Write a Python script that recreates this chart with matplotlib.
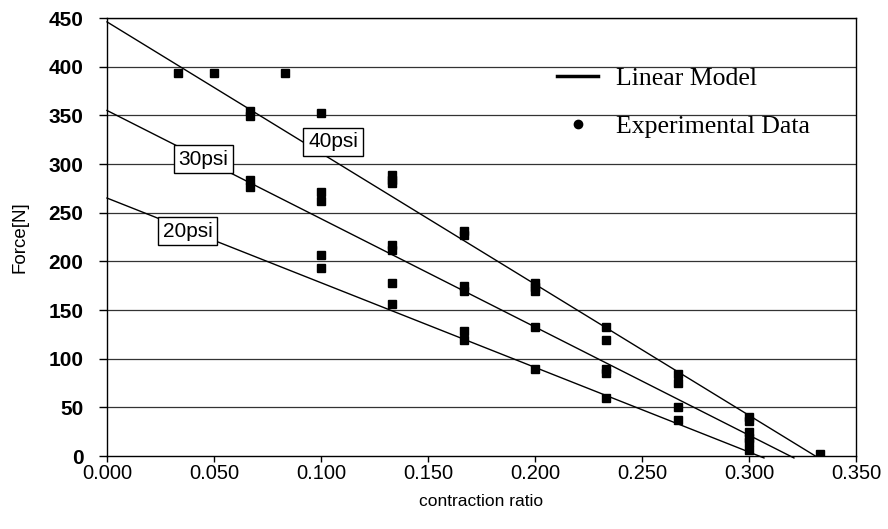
import matplotlib
matplotlib.use("Agg")
import matplotlib.pyplot as plt
from matplotlib.lines import Line2D

# ---- data ----
data_x = [0.0333, 0.05, 0.0667, 0.0667, 0.0667, 0.0667, 0.0833,
          0.1, 0.1, 0.1, 0.1, 0.1,
          0.1333, 0.1333, 0.1333, 0.1333, 0.1333, 0.1333, 0.1333,
          0.1667, 0.1667, 0.1667, 0.1667, 0.1667, 0.1667,
          0.2, 0.2, 0.2, 0.2, 0.2,
          0.2333, 0.2333, 0.2333, 0.2333, 0.2333,
          0.2667, 0.2667, 0.2667, 0.2667,
          0.3, 0.3, 0.3, 0.3, 0.3, 0.3,
          0.3333]
data_force = [393, 393, 354, 349, 284, 276, 393,
              352, 271, 262, 206, 193,
              289, 284, 280, 217, 212, 178, 156,
              231, 227, 175, 170, 128, 119,
              178, 174, 170, 133, 89,
              133, 119, 89, 85, 60,
              84, 75, 50, 37,
              40, 36, 25, 19, 14, 6,
              2]

model_labels = ["20psi", "30psi", "40psi"]
model_force_start = [265, 355, 446]
model_x_end = [0.307, 0.321, 0.331]
model_force_end = [-2, -2, 0]
label_x = [0.0377, 0.0449, 0.1056]
label_force = [231, 305, 323]

x_ticks = [0.0, 0.05, 0.1, 0.15, 0.2, 0.25, 0.3, 0.35]
x_tick_labels = ["0.000", "0.050", "0.100", "0.150", "0.200", "0.250", "0.300", "0.350"]
y_ticks = [0, 50, 100, 150, 200, 250, 300, 350, 400, 450]

# ---- figure ----
fig = plt.figure(figsize=(8.88, 5.29), dpi=100)
ax = fig.add_axes([107/888, 1 - 456/529, (856 - 107)/888, (456 - 18)/529])

for yt in y_ticks[1:]:
    ax.axhline(yt, color="#333333", lw=0.9, zorder=1)

for f0, xe, fe in zip(model_force_start, model_x_end, model_force_end):
    ax.plot([0, xe], [f0, fe], color="black", lw=1.0, zorder=2, clip_on=False)

ax.plot(data_x, data_force, linestyle="none", marker="s", markersize=5.5,
        color="black", zorder=3)

for lab, lx, ly in zip(model_labels, label_x, label_force):
    ax.text(lx, ly, lab, ha="center", va="center", fontsize=15,
            family="Liberation Sans", zorder=4,
            bbox=dict(boxstyle="square,pad=0.22", fc="white", ec="black", lw=1.0))

ax.set_xlim(0, 0.35)
ax.set_ylim(0, 450)
ax.set_xticks(x_ticks)
ax.set_xticklabels(x_tick_labels, family="Liberation Sans", fontsize=14.5)
ax.set_yticks(y_ticks)
ax.set_yticklabels([str(v) for v in y_ticks], family="Liberation Sans",
                   fontsize=15, fontweight="bold")
ax.tick_params(direction="out", length=6, width=1, color="black")
ax.tick_params(axis="y", pad=11)
ax.tick_params(axis="x", length=4, pad=2)
for s in ax.spines.values():
    s.set_color("black")
    s.set_linewidth(1.0)

ax.set_xlabel("contraction ratio", family="Liberation Sans", fontsize=12.5, labelpad=8)
ax.set_ylabel("Force[N]", family="Liberation Sans", fontsize=13.5, labelpad=14)

handles = [Line2D([], [], color="black", lw=2.5),
           Line2D([], [], linestyle="none", marker="o", markersize=6, color="black")]
leg = ax.legend(handles, ["Linear Model", "Experimental Data"], frameon=False,
                loc="upper left", bbox_to_anchor=(0.57, 0.94),
                prop={"family": "Liberation Serif", "size": 18.5},
                handlelength=1.6, handletextpad=0.7, labelspacing=0.95)

fig.savefig("out.png", dpi=100)
